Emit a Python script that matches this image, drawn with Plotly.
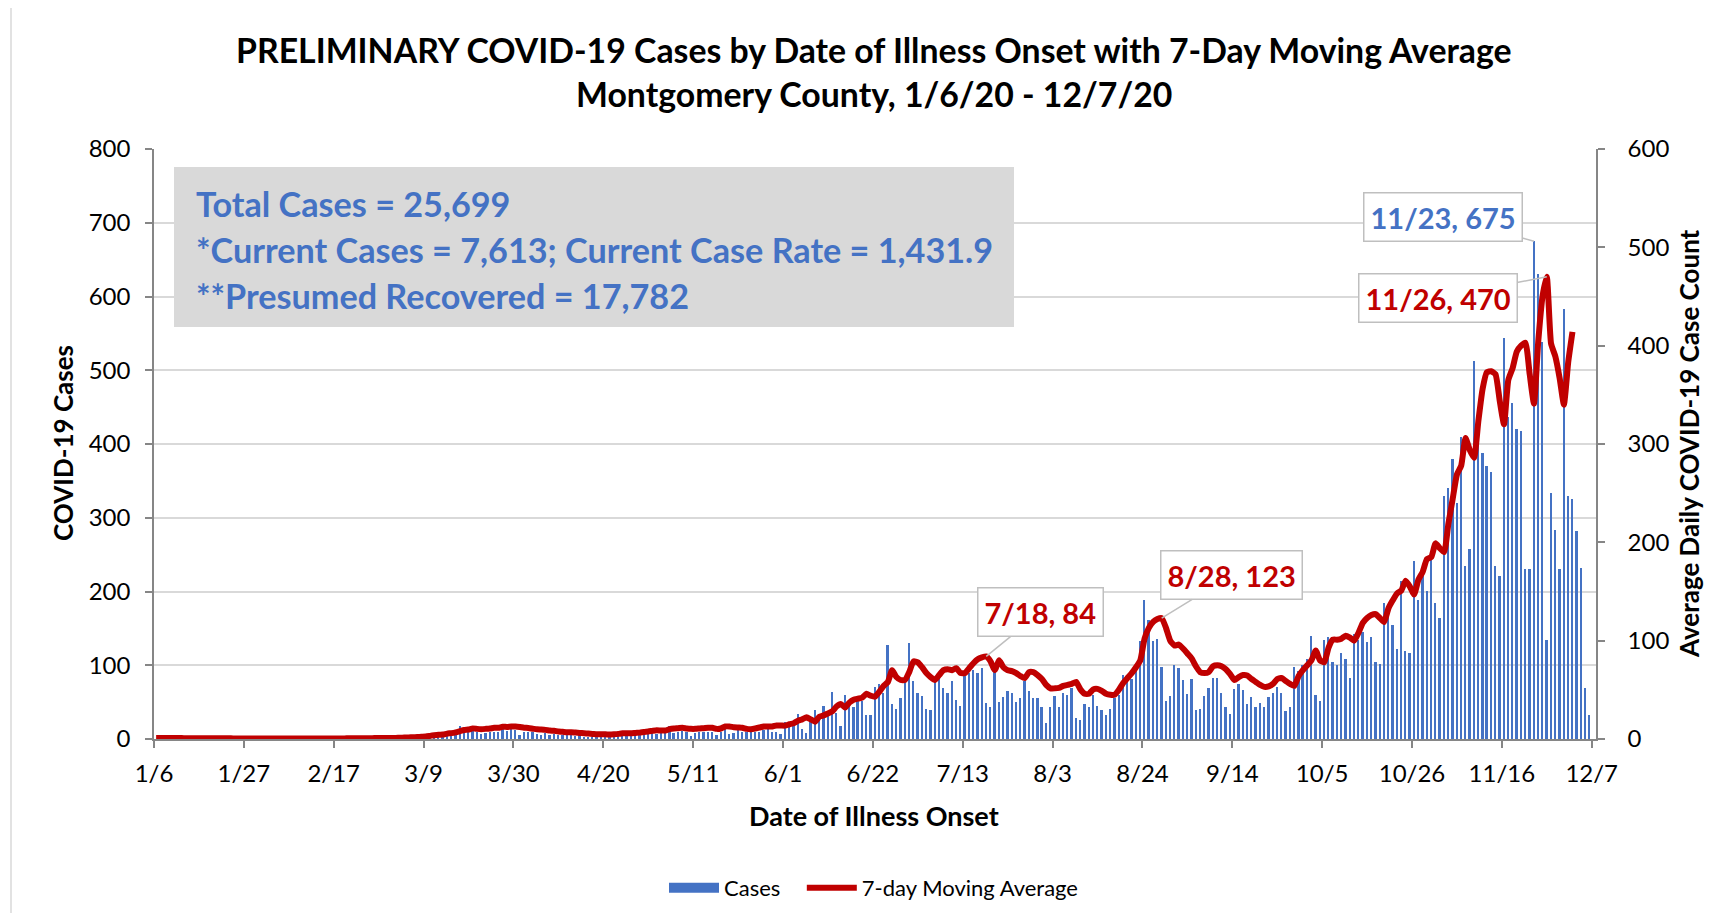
import pandas as pd
import plotly.graph_objects as go

# ---------------- data ----------------
start_date = "2020-01-06"

cases_jan_feb = [0] * 26 + [0] * 29                      # 1/6 - 2/29
cases_mar = [1, 0, 1, 0, 2, 1, 2, 1,                      # 3/1 - 3/8
             2, 3, 4, 5, 7, 8, 7, 8, 18, 10, 9, 17, 10, 7, 8, 10, 9, 10, 21, 11, 17, 12, 5]
cases_apr = [10, 9, 10, 7, 5, 8, 6, 7, 5, 6, 5, 5, 4, 5, 2, 2, 3, 2, 3, 3,
             3, 3, 5, 5, 6, 5, 6, 7, 6, 8]
cases_may = [9, 7, 8, 9, 18, 8, 10, 11, 9, 4, 8, 9, 10, 10, 9, 5, 10, 21, 7, 8,
             14, 9, 10, 11, 10, 9, 12, 16, 10, 10, 7]
cases_jun = [23, 21, 17, 34, 14, 8, 28, 39, 30, 45, 35, 64, 35, 18, 60, 52, 43, 51, 52, 33,
             33, 71, 75, 63, 127, 47, 41, 56, 77, 130]
cases_jul = [78, 63, 58, 41, 40, 82, 85, 69, 63, 79, 53, 45, 87, 90, 94, 89, 96, 49, 44, 98,
             50, 57, 65, 62, 50, 56, 79, 65, 55, 55, 44]
cases_aug = [22, 44, 58, 43, 63, 59, 69, 29, 26, 48, 43, 59, 45, 39, 32, 41, 56, 60, 87, 78,
             81, 99, 133, 188, 161, 133, 135, 98, 51, 58, 101]
cases_sep = [96, 80, 61, 81, 39, 41, 58, 69, 83, 83, 62, 43, 34, 68, 75, 66, 48, 57, 43, 49,
             43, 57, 63, 70, 63, 38, 44, 97, 92, 101]
cases_oct = [109, 139, 59, 51, 134, 138, 105, 100, 116, 109, 83, 142, 134, 145, 131, 138, 104, 102, 185, 176,
             155, 122, 214, 119, 117, 241, 188, 222, 201, 245, 185]
cases_nov = [164, 329, 340, 379, 320, 410, 235, 257, 512, 433, 388, 370, 362, 234, 221, 544, 436, 455, 421, 417,
             230, 230, 675, 630, 538, 134, 333, 284, 230, 583]
cases_dec = [330, 325, 282, 232, 69, 32, 0]

ma_jan = [1.0, 1.0, 1.0, 0.9, 0.9, 0.9, 0.9, 0.8, 0.8, 0.8, 0.8, 0.8, 0.7, 0.7, 0.7, 0.7, 0.7, 0.7,
          0.6, 0.6, 0.6, 0.6, 0.6, 0.6, 0.6, 0.6]
ma_feb = [0.6, 0.6, 0.5, 0.5, 0.5, 0.5, 0.5, 0.5, 0.5, 0.5, 0.5, 0.5, 0.5, 0.5, 0.6, 0.6, 0.6, 0.6,
          0.6, 0.7, 0.7, 0.7, 0.7, 0.8, 0.8, 0.9, 0.9, 1.0, 1.0]
ma_mar = [1.0, 1.1, 1.2, 1.4, 1.6, 1.8, 2.0, 2.3,
          2.6, 3.2, 3.8, 4.3, 4.5, 5.5, 6.0, 6.8, 8.0, 9.2, 9.6, 10.8, 10.3, 10.0, 10.3, 10.7,
          11.4, 11.4, 12.5, 12.3, 12.7, 12.7, 12.2]
ma_apr = [11.5, 11.2, 10.5, 9.8, 9.6, 9.3, 8.6, 8.4, 7.6, 7.3, 6.9, 6.9, 6.5, 6.2, 5.9, 5.5, 5.2,
          4.8, 4.8, 4.8, 4.5, 4.8, 5.2, 5.8, 5.8, 5.8, 6.2, 6.5, 7.2, 7.6]
ma_may = [8.3, 8.9, 8.6, 8.6, 10.0, 10.7, 11.0, 11.4, 10.7, 10.3, 10.3, 10.7, 11.0, 11.4, 11.4, 10.3,
          10.7, 12.7, 12.7, 12.0, 11.7, 11.4, 10.3, 10.0, 10.7, 11.7, 12.7, 12.7, 12.7, 13.8, 13.8]
ma_jun = [13.6, 15, 16, 18.6, 20, 22, 20, 17.6, 22.7, 24, 26, 28, 33, 35.6, 32, 37, 40, 41, 42, 46,
          44, 43, 48, 54, 58, 70, 63, 60, 60, 68]
ma_jul = [79, 78, 73, 67, 63, 60, 65, 70, 71, 70, 72, 67, 67, 72, 77, 81, 83, 84, 79, 70,
          80, 73, 70, 69, 67, 64, 62, 68, 68, 65, 61]
ma_aug = [55, 51.5, 51.5, 52, 54, 55, 56, 58, 50.5, 46, 46, 50.5, 51, 49, 46, 45, 45, 50, 57, 62,
          67, 73, 80, 102, 113, 119, 122, 123, 113, 100, 95]
ma_sep = [96, 92, 87, 82, 74, 68, 67, 68, 74, 75, 74, 71, 66, 60, 63, 65, 64.5, 61, 58, 55,
          53, 53.5, 56, 61, 62, 59, 56, 54, 64, 70]
ma_oct = [75, 80, 90, 80, 78, 93, 101, 101, 102, 105, 103, 100, 108, 118, 123, 126, 127, 123, 119, 133,
          141, 148, 151, 161, 155, 147, 162, 170, 183, 185, 199]
ma_nov = [194, 190, 219, 244, 269, 278, 306, 294, 286, 323, 356, 373, 374, 371, 344, 320, 365, 377, 394, 400,
          403, 371, 341, 404, 450, 470, 402, 389, 367, 340]
ma_dec = [383, 414, None, None, None, None, None]

tick_labels = ["1/6", "1/27", "2/17", "3/9", "3/30", "4/20", "5/11", "6/1", "6/22",
               "7/13", "8/3", "8/24", "9/14", "10/5", "10/26", "11/16", "12/7"]

info_lines = ["Total Cases = 25,699",
              "*Current Cases = 7,613; Current Case Rate = 1,431.9",
              "**Presumed Recovered = 17,782"]

# ---------------- assemble ----------------
cases = (cases_jan_feb + cases_mar + cases_apr + cases_may + cases_jun + cases_jul +
         cases_aug + cases_sep + cases_oct + cases_nov + cases_dec)
ma = (ma_jan + ma_feb + ma_mar + ma_apr + ma_may + ma_jun + ma_jul + ma_aug +
      ma_sep + ma_oct + ma_nov + ma_dec)
dates = pd.date_range(start_date, periods=len(cases), freq="D")
assert len(ma) == len(cases)

tick_dates = pd.date_range(start_date, periods=len(tick_labels), freq="21D")

DAY_MS = 86400000
FONT = "Lato"
BLUE = "#4472C4"
RED = "#C00000"
AXIS = "#868686"

# page body has an 8px margin; screen geometry of the plot area
PAGE = 8
W, H = 1734 - 2 * PAGE, 921 - 2 * PAGE
L, R, T, B = 154, 1596, 149, 739   # screen pixels


def px(x):
    return (x - L) / (R - L)


def py(y):
    return (B - y) / (B - T)


fig = go.Figure()
fig.add_trace(go.Bar(
    x=dates, y=cases, name="Cases", marker_color=BLUE, marker_line_width=0,
    xperiod=DAY_MS, xperiodalignment="middle", width=0.42 * DAY_MS, showlegend=False,
))
# legend swatch for the bars (Excel-style wide rectangle)
fig.add_trace(go.Scatter(x=[None], y=[None], name="Cases\u2003", mode="lines",
                         line=dict(color=BLUE, width=13)))
fig.add_trace(go.Scatter(
    x=dates, y=ma, name="7-day Moving Average", yaxis="y2", mode="lines",
    line=dict(color=RED, width=6, shape="spline", smoothing=0.5),
    xperiod=DAY_MS, xperiodalignment="middle",
))

annotations = []


def text_ann(text, x, y, size, color="#000000", angle=0, xanchor="center", bold=True):
    return dict(text=text, x=px(x), y=py(y), xref="paper", yref="paper", showarrow=False,
                xanchor=xanchor, yanchor="middle", textangle=angle,
                font=dict(family=FONT, size=size, color=color, weight="bold" if bold else "normal"))


annotations.append(text_ann("PRELIMINARY COVID-19 Cases by Date of Illness Onset with 7-Day Moving Average",
                            874, 50, 33.8))
annotations.append(text_ann("Montgomery County, 1/6/20 - 12/7/20", 874, 94, 33.8))
annotations.append(text_ann("COVID-19 Cases", 63, 443, 26, angle=-90))
annotations.append(text_ann("Average Daily COVID-19 Case Count", 1689, 444, 26, angle=-90))
annotations.append(text_ann("Date of Illness Onset", 874, 815, 27))
for i, line in enumerate(info_lines):
    annotations.append(text_ann(line, 194, 203 + 46 * i, 34.2, color=BLUE, xanchor="left"))


def callout(text, date, value, yref, color, ax, ay):
    return dict(text=text, x=pd.Timestamp(date) + pd.Timedelta(hours=12), y=value, xref="x", yref=yref,
                showarrow=True, arrowhead=0, arrowwidth=1.5, arrowcolor="#BFBFBF",
                ax=ax, ay=ay, standoff=0, bgcolor="#FFFFFF", bordercolor="#BFBFBF",
                borderwidth=1.5, borderpad=6,
                font=dict(family=FONT, size=29, color=color, weight="bold"))


peak_day = dates[cases.index(max(cases))]
annotations.append(callout(f"{peak_day.month}/{peak_day.day}, {max(cases)}", peak_day, max(cases),
                           "y", BLUE, -91, -24))
annotations.append(callout("11/26, 470", "2020-11-26", 470, "y2", RED, -109, 21))
annotations.append(callout("8/28, 123", "2020-08-28", 123, "y2", RED, 70, -43))
annotations.append(callout("7/18, 84", "2020-07-18", 84, "y2", RED, 54, -44))

shapes = [
    dict(type="rect", xref="paper", yref="paper", x0=px(174), x1=px(1014), y0=py(327), y1=py(167),
         fillcolor="#D9D9D9", line_width=0, layer="above"),
    dict(type="rect", xref="paper", yref="paper", x0=px(11), x1=px(1731), y0=py(930), y1=py(5),
         fillcolor="rgba(0,0,0,0)", line=dict(color="#D9D9D9", width=1.5), layer="below"),
]

fig.update_layout(
    width=W, height=H,
    margin=dict(l=L - PAGE, r=W - (R - PAGE), t=T - PAGE, b=H - (B - PAGE), autoexpand=False),
    paper_bgcolor="#FFFFFF", plot_bgcolor="#FFFFFF",
    font=dict(family=FONT, size=24, color="#000000"),
    bargap=0,
    showlegend=True,
    legend=dict(orientation="h", x=px(664), xanchor="left", y=py(888), yanchor="middle",
                font=dict(family=FONT, size=22, color="#000000"),
                itemwidth=50, traceorder="normal"),
    xaxis=dict(type="date", range=[dates[0], dates[-1] + pd.Timedelta(days=1)],
               tickvals=tick_dates, ticktext=tick_labels, ticks="outside", ticklen=7,
               tickcolor=AXIS, tickwidth=1.5, showline=True, linecolor=AXIS, linewidth=1.5,
               showgrid=False, zeroline=False, ticklabelstandoff=5,
               tickfont=dict(family=FONT, size=24)),
    yaxis=dict(range=[0, 800], dtick=100, tick0=0, ticks="outside", ticklen=7, tickcolor=AXIS,
               tickwidth=1.5, showline=True, linecolor=AXIS, linewidth=1.5, showgrid=True,
               gridcolor="#D9D9D9", gridwidth=1.5, zeroline=False, ticklabelstandoff=10,
               tickfont=dict(family=FONT, size=24)),
    yaxis2=dict(range=[0, 600], dtick=100, tick0=0, overlaying="y", side="right", ticks="outside",
                ticklen=7, tickcolor=AXIS, tickwidth=1.5, showline=True, linecolor=AXIS,
                linewidth=1.5, showgrid=False, zeroline=False, ticklabelstandoff=18,
                tickfont=dict(family=FONT, size=24)),
    annotations=annotations,
    shapes=shapes,
)

fig.write_html("out.html")
